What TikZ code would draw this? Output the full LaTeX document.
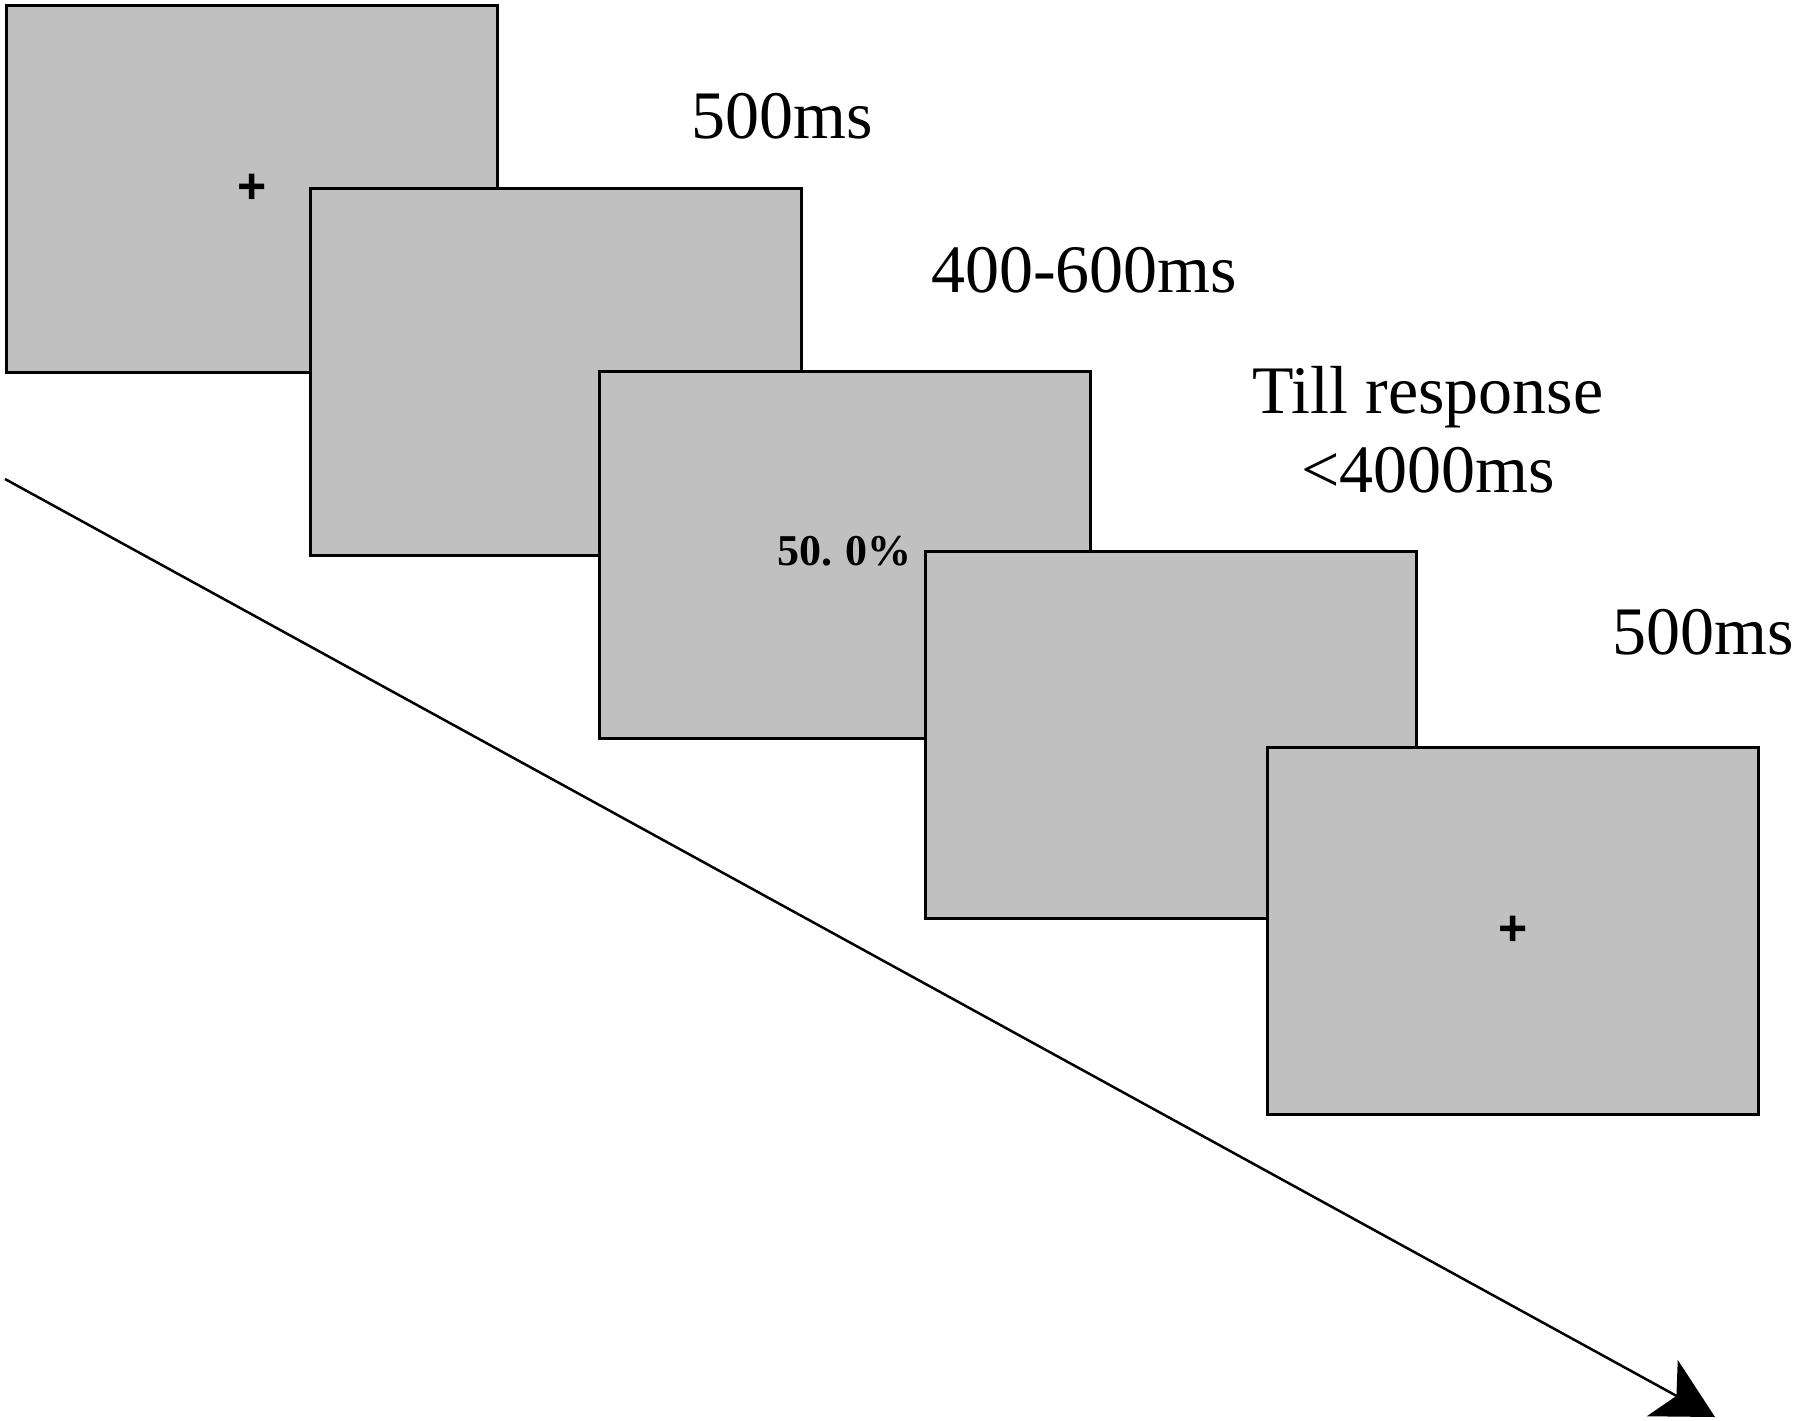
\documentclass[tikz,border=0pt]{standalone}
\usepackage{fontspec}
\setmainfont{Liberation Serif}
\newfontfamily\crossfont{Liberation Sans}
\usetikzlibrary{arrows.meta}
\definecolor{screengray}{RGB}{192,192,192}
\begin{document}
\begin{tikzpicture}[x=1pt,y=-1pt,
  screen/.style={draw=black, fill=screengray, line width=2.7pt, rectangle,
    minimum width=491pt, minimum height=367pt, inner sep=0pt, anchor=north west},
  fixcross/.style={font=\crossfont\bfseries\fontsize{50}{50}\selectfont, inner sep=0pt},
  timelabel/.style={font=\fontsize{68}{79}\selectfont, inner sep=0pt, align=center},
  stimtext/.style={font=\bfseries\fontsize{44}{44}\selectfont, inner sep=0pt}]
\useasboundingbox (0,0) rectangle (1796,1421);
\node[screen] (s1) at (5,4) {};
\node[fixcross] (c1) at (s1.center) {+};
\node[screen] (s2) at (309,187) {};
\node[screen] (s3) at (598,370) {};
\node[stimtext] (p3) at ([yshift=4pt]s3.center) {50.\hspace{0.3em}0\%};
\node[screen] (s4) at (924,550) {};
\node[screen] (s5) at (1266,746) {};
\node[fixcross] (c5) at (s5.center) {+};
\node[timelabel] (t1) at (782,116) {500ms};
\node[timelabel] (t2) at (1084,270) {400-600ms};
\node[timelabel] (t3) at (1428,430) {Till response\\\textless4000ms};
\node[timelabel, anchor=east] (t4) at (1794,632) {500ms};
\coordinate (a0) at (5,479);
\coordinate (a1) at (1715,1417);
\draw[line width=2.5pt, -{Stealth[length=60pt, width=64pt, inset=16pt]}] (a0) -- (a1);
\end{tikzpicture}
\end{document}
